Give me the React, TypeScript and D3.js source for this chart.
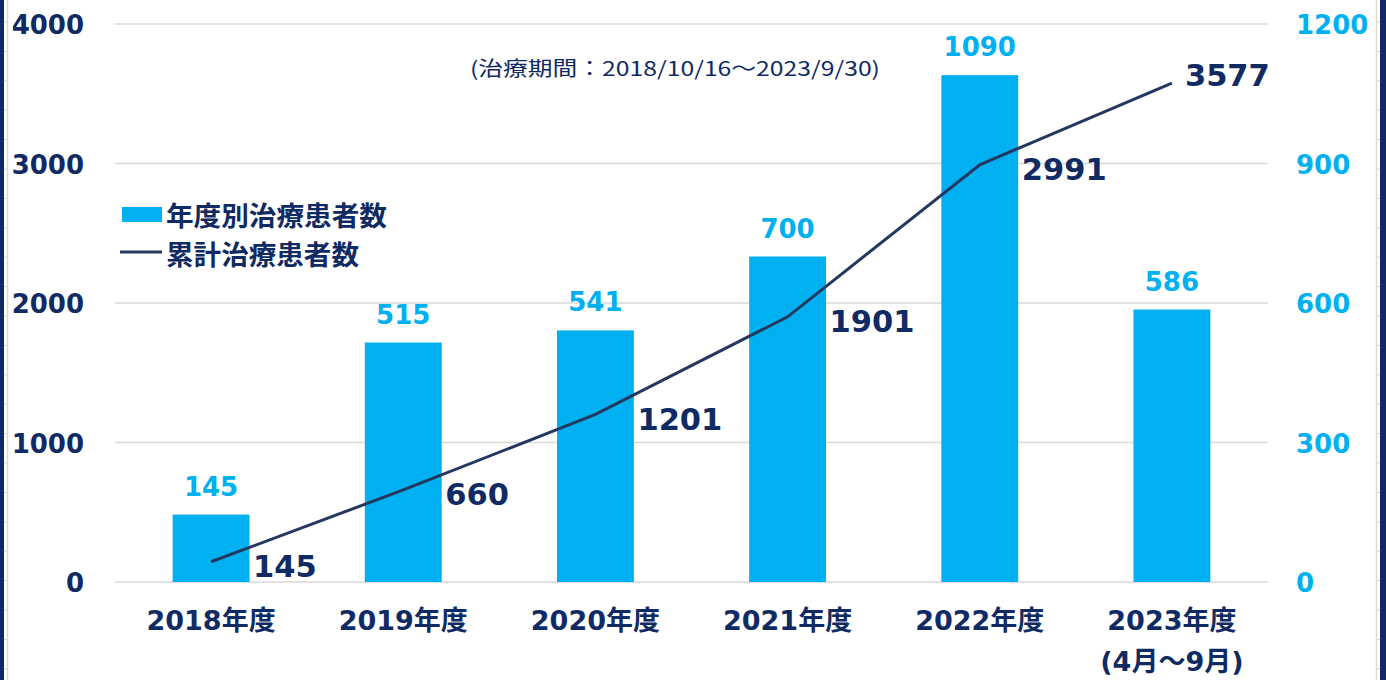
import React from "react";
import * as d3 from "d3";

const categories = ["2018年度", "2019年度", "2020年度", "2021年度", "2022年度", "2023年度"];
const categorySub = ["", "", "", "", "", "(4月〜9月)"];
const yearlyPatients = [145, 515, 541, 700, 1090, 586];
const cumulativePatients = [145, 660, 1201, 1901, 2991, 3577];
const leftTicks = [0, 1000, 2000, 3000, 4000];
const rightTicks = [0, 300, 600, 900, 1200];
const legendLabels = ["年度別治療患者数", "累計治療患者数"];
const subtitle = "(治療期間：2018/10/16〜2023/9/30)";

const W = 1386;
const H = 680;
const NAVY = "#102a63";
const LINE = "#24375f";
const BLUE = "#00b0f0";
const GRID = "#d9d9d9";
const FONT = "'DejaVu Sans', Verdana, 'Noto Sans CJK JP', sans-serif";

export default function App() {
  const x = d3.scaleBand<string>().domain(categories).range([115, 1268]).padding(0);
  const yL = d3.scaleLinear().domain([0, 4000]).range([582, 24]);
  const yR = d3.scaleLinear().domain([0, 1200]).range([582, 24]);
  const bw = x.bandwidth() * 0.4;
  const cx = (c: string) => (x(c) as number) + x.bandwidth() / 2;

  const line = d3
    .line<number>()
    .x((_, i) => cx(categories[i]))
    .y((d) => yL(d));

  const rulerTicks = d3.range(22, H, 29.4);

  return (
    <svg
      width={W}
      height={H}
      style={{ position: "fixed", left: 0, top: 0, background: "#fff" }}
      fontFamily={FONT}
    >
      <rect x={0} y={0} width={W} height={H} fill="#fff" />
      {/* frame / ruler decorations */}
      <rect x={0} y={0} width={4} height={H} fill={NAVY} />
      <rect x={1380} y={0} width={6} height={H} fill={NAVY} />
      <line x1={7.5} x2={7.5} y1={0} y2={H} stroke={GRID} strokeWidth={1.5} />
      <line x1={1376.5} x2={1376.5} y1={0} y2={H} stroke={GRID} strokeWidth={1.5} />
      {rulerTicks.map((t, i) => (
        <g key={i}>
          <line x1={4} x2={8} y1={t} y2={t} stroke={GRID} />
          <line x1={1376} x2={1380} y1={t} y2={t} stroke={GRID} />
        </g>
      ))}

      {/* gridlines */}
      {leftTicks.map((t) => (
        <line key={t} x1={115} x2={1268} y1={yL(t)} y2={yL(t)} stroke={GRID} strokeWidth={1.5} />
      ))}

      {/* left axis labels */}
      {leftTicks.map((t) => (
        <text
          key={t}
          x={84}
          y={yL(t) + 1}
          textAnchor="end"
          dominantBaseline="central"
          fontSize={26}
          fontWeight="bold"
          fill={NAVY}
        >
          {t}
        </text>
      ))}
      {/* right axis labels */}
      {rightTicks.map((t) => (
        <text
          key={t}
          x={1296}
          y={yR(t) + 1}
          textAnchor="start"
          dominantBaseline="central"
          fontSize={26}
          fontWeight="bold"
          fill={BLUE}
        >
          {t}
        </text>
      ))}

      {/* bars */}
      {yearlyPatients.map((v, i) => (
        <rect
          key={i}
          x={cx(categories[i]) - bw / 2}
          y={yR(v)}
          width={bw}
          height={yR(0) - yR(v)}
          fill={BLUE}
        />
      ))}
      {yearlyPatients.map((v, i) => (
        <text
          key={i}
          x={cx(categories[i])}
          y={yR(v) - 19}
          textAnchor="middle"
          fontSize={26}
          fontWeight="bold"
          fill={BLUE}
        >
          {v}
        </text>
      ))}

      {/* line */}
      <path d={line(cumulativePatients) || ""} fill="none" stroke={LINE} strokeWidth={3} />
      {cumulativePatients.map((v, i) => {
        const last = i === cumulativePatients.length - 1;
        return (
          <text
            key={i}
            x={cx(categories[i]) + (last ? 13 : 42)}
            y={yL(v) + (last ? -8 : 5)}
            dominantBaseline="central"
            fontSize={30.5}
            fontWeight="bold"
            fill={NAVY}
          >
            {v}
          </text>
        );
      })}

      {/* x labels */}
      {categories.map((c, i) => (
        <g key={c}>
          <text x={cx(c)} y={630} textAnchor="middle" fontSize={27} fontWeight="bold" fill={NAVY}>
            {c}
          </text>
          {categorySub[i] && (
            <text x={cx(c)} y={671} textAnchor="middle" fontSize={27} fontWeight="bold" fill={NAVY}>
              {categorySub[i]}
            </text>
          )}
        </g>
      ))}

      {/* subtitle */}
      <text
        x={470}
        y={76}
        fontSize={20}
        fill={NAVY}
        fontFamily="'Noto Sans CJK JP', sans-serif"
        textLength={410}
        lengthAdjust="spacingAndGlyphs"
      >
        {subtitle}
      </text>

      {/* legend */}
      <rect x={122} y={207} width={40} height={15} fill={BLUE} />
      <text x={166} y={214} dominantBaseline="central" fontSize={27} fontWeight="bold" fill={NAVY} fontFamily="'Noto Sans CJK JP', sans-serif" textLength={221} lengthAdjust="spacingAndGlyphs">
        {legendLabels[0]}
      </text>
      <line x1={120} x2={162} y1={252} y2={252} stroke={LINE} strokeWidth={3} />
      <text x={166} y={253} dominantBaseline="central" fontSize={27} fontWeight="bold" fill={NAVY} fontFamily="'Noto Sans CJK JP', sans-serif" textLength={193} lengthAdjust="spacingAndGlyphs">
        {legendLabels[1]}
      </text>
    </svg>
  );
}
